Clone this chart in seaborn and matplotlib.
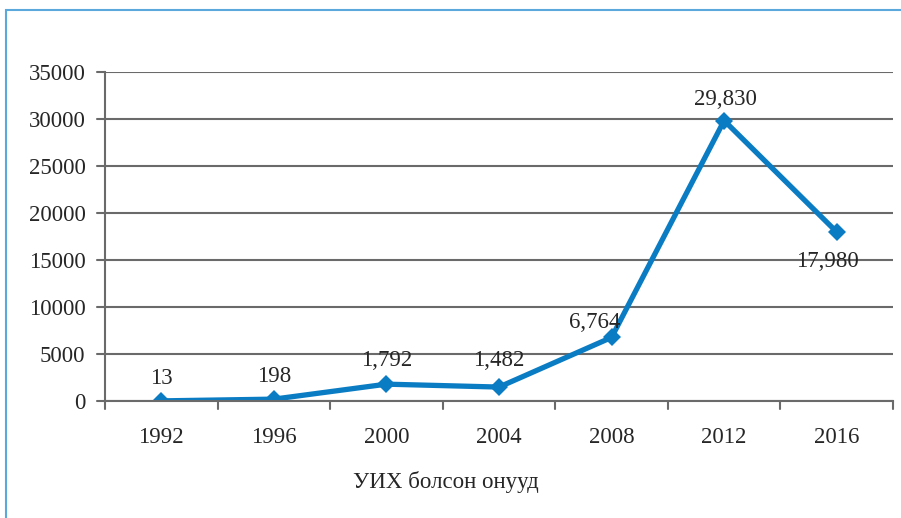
import matplotlib
matplotlib.use("Agg")
import matplotlib.pyplot as plt
import seaborn as sns
import pandas as pd
from matplotlib.patches import Rectangle

years = ["1992", "1996", "2000", "2004", "2008", "2012", "2016"]
values = [13, 198, 1792, 1482, 6764, 29830, 17980]
labels = ["13", "198", "1,792", "1,482", "6,764", "29,830", "17,980"]
yticks = [0, 5000, 10000, 15000, 20000, 25000, 30000, 35000]
xlabel = "УИХ болсон онууд"

sns.set_theme(style="white")
plt.rcParams['font.family'] = ['Liberation Serif', 'DejaVu Serif']

W, H = 901, 518
FS = 16.5
TC = "#262626"
fig = plt.figure(figsize=(W / 100, H / 100), dpi=100)
ax = fig.add_axes([105 / W, 1 - 401 / H, (893 - 105) / W, (401 - 72) / H])

df = pd.DataFrame({"year": years, "value": values})
blue = "#0A7CC4"
sns.lineplot(data=df, x="year", y="value", ax=ax, color=blue, lw=3.8,
             marker="D", markersize=9.5, markeredgewidth=0, sort=False)

ax.set_xlim(-0.5, 6.5)
ax.set_ylim(0, 35000)
ax.set_yticks(yticks)
ax.set_yticklabels([str(v) for v in yticks], fontsize=FS, color=TC)
ax.set_xticks(range(len(years)))
ax.set_xticklabels(years, fontsize=FS, color=TC)
ax.tick_params(axis="x", length=0, pad=19)
ax.tick_params(axis="y", length=0, pad=14)
# boundary tick marks
for b in [i - 0.5 for i in range(len(years) + 1)]:
    ax.plot([b, b], [0, -900], color="#6a6a6a", lw=1.5, clip_on=False)
for v in yticks:
    ax.plot([-0.57, -0.5], [v, v], color="#6a6a6a", lw=1.5, clip_on=False)

ax.yaxis.grid(True, color="#6a6a6a", lw=1.5)
ax.set_axisbelow(True)
for s in ["top", "right"]:
    ax.spines[s].set_visible(False)
ax.spines["left"].set_color("#6a6a6a")
ax.spines["left"].set_linewidth(1.5)
ax.spines["bottom"].set_color("#6a6a6a")
ax.spines["bottom"].set_linewidth(1.5)
ax.set_xlabel("")
ax.set_ylabel("")

offsets = [(0, 16), (0, 16), (0, 17), (0, 19), (-12, 11), (1, 15), (-7, -21)]
for i, (v, lab, off) in enumerate(zip(values, labels, offsets)):
    ax.annotate(lab, (i, v), xytext=off, textcoords="offset points",
                ha="center", va="center", fontsize=FS, color=TC)

fig.text(446 / W, 1 - 482 / H, xlabel, ha="center", va="center",
         fontsize=FS, color=TC)

fig.patches.append(Rectangle((6 / W, -0.1), 1.2, 1 - 10 / H + 0.1,
                             transform=fig.transFigure, fill=False,
                             edgecolor="#5BA8DC", lw=1.5))

fig.savefig("out.png", dpi=100)
